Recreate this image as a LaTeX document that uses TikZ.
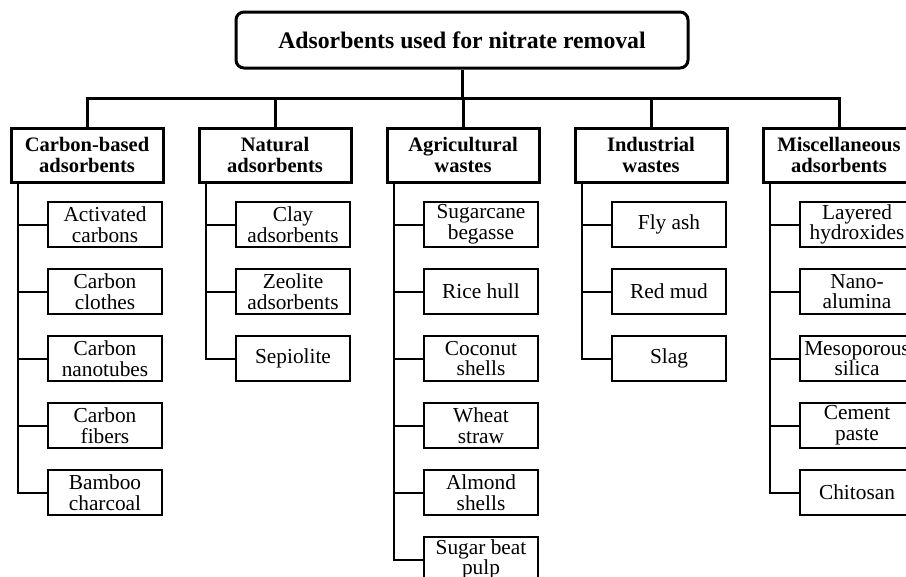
\documentclass[tikz,border=0pt]{standalone}
\usepackage{fontspec}
\setmainfont{Liberation Serif}
\usepackage{tikz}
\tikzset{
    rootbox/.style={rectangle, rounded corners=6pt, draw, line width=2.25pt, minimum width=339pt, minimum height=42pt, inner sep=0pt, font=\fontsize{17.8pt}{20pt}\selectfont\bfseries},
    catbox/.style={rectangle, draw, line width=2.25pt, minimum width=114pt, minimum height=40.5pt, inner sep=0pt, align=center, font=\fontsize{15.4pt}{15.4pt}\selectfont\bfseries},
    itembox/.style={rectangle, draw, line width=1.5pt, minimum width=85.5pt, minimum height=33.75pt, inner sep=0pt, align=center, font=\fontsize{16pt}{15.5pt}\selectfont},
    bus/.style={line width=2.25pt},
    branch/.style={line width=1.5pt},
}

\begin{document}
\begin{tikzpicture}[x=0.75pt, y=-0.75pt]
    \useasboundingbox (0,0) rectangle (906,576);

    % Root
    \node[rootbox] (root) at (462,40) {Adsorbents used for nitrate removal};
    \coordinate (bus) at (462,98);

    % Categories
    \node[catbox] (C) at (87,155) {Carbon-based\\adsorbents};
    \node[catbox] (N) at (275,155) {Natural\\adsorbents};
    \node[catbox] (A) at (463,155) {Agricultural\\wastes};
    \node[catbox] (I) at (651,155) {Industrial\\wastes};
    \node[catbox] (M) at (839,155) {Miscellaneous\\adsorbents};

    \draw[bus] (root) -- (bus);
    \draw[bus] (C.north) |- (bus);
    \draw[bus] (N.north) |- (bus);
    \draw[bus] (A.north) |- (bus);
    \draw[bus] (I.north) |- (bus);
    \draw[bus] (M.north) |- (bus);

    % Carbon-based
    \node[itembox] (C1) at (105,224.5) {Activated\\carbons};
    \node[itembox] (C2) at (105,291.5) {Carbon\\clothes};
    \node[itembox] (C3) at (105,358.5) {Carbon\\nanotubes};
    \node[itembox] (C4) at (105,425.5) {Carbon\\fibers};
    \node[itembox] (C5) at (105,492.5) {Bamboo\\charcoal};
    \draw[branch] ([xshift=6pt]C.south west) |- (C1.west);
    \draw[branch] ([xshift=6pt]C.south west) |- (C2.west);
    \draw[branch] ([xshift=6pt]C.south west) |- (C3.west);
    \draw[branch] ([xshift=6pt]C.south west) |- (C4.west);
    \draw[branch] ([xshift=6pt]C.south west) |- (C5.west);

    % Natural
    \node[itembox] (N1) at (293,224.5) {Clay\\adsorbents};
    \node[itembox] (N2) at (293,291.5) {Zeolite\\adsorbents};
    \node[itembox] (N3) at (293,358.5) {Sepiolite};
    \draw[branch] ([xshift=6pt]N.south west) |- (N1.west);
    \draw[branch] ([xshift=6pt]N.south west) |- (N2.west);
    \draw[branch] ([xshift=6pt]N.south west) |- (N3.west);

    % Agricultural
    \node[itembox] (A1) at (481,224.5) {Sugarcane\\begasse};
    \node[itembox] (A2) at (481,291.5) {Rice hull};
    \node[itembox] (A3) at (481,358.5) {Coconut\\shells};
    \node[itembox] (A4) at (481,425.5) {Wheat\\straw};
    \node[itembox] (A5) at (481,492.5) {Almond\\shells};
    \node[itembox] (A6) at (481,559.5) {Sugar beat\\pulp};
    \draw[branch] ([xshift=6pt]A.south west) |- (A1.west);
    \draw[branch] ([xshift=6pt]A.south west) |- (A2.west);
    \draw[branch] ([xshift=6pt]A.south west) |- (A3.west);
    \draw[branch] ([xshift=6pt]A.south west) |- (A4.west);
    \draw[branch] ([xshift=6pt]A.south west) |- (A5.west);
    \draw[branch] ([xshift=6pt]A.south west) |- (A6.west);

    % Industrial
    \node[itembox] (I1) at (669,224.5) {Fly ash};
    \node[itembox] (I2) at (669,291.5) {Red mud};
    \node[itembox] (I3) at (669,358.5) {Slag};
    \draw[branch] ([xshift=6pt]I.south west) |- (I1.west);
    \draw[branch] ([xshift=6pt]I.south west) |- (I2.west);
    \draw[branch] ([xshift=6pt]I.south west) |- (I3.west);

    % Miscellaneous
    \node[itembox] (M1) at (857,224.5) {Layered\\hydroxides};
    \node[itembox] (M2) at (857,291.5) {Nano-\\alumina};
    \node[itembox] (M3) at (857,358.5) {Mesoporous\\silica};
    \node[itembox] (M4) at (857,425.5) {Cement\\paste};
    \node[itembox] (M5) at (857,492.5) {Chitosan};
    \draw[branch] ([xshift=6pt]M.south west) |- (M1.west);
    \draw[branch] ([xshift=6pt]M.south west) |- (M2.west);
    \draw[branch] ([xshift=6pt]M.south west) |- (M3.west);
    \draw[branch] ([xshift=6pt]M.south west) |- (M4.west);
    \draw[branch] ([xshift=6pt]M.south west) |- (M5.west);
\end{tikzpicture}
\end{document}
